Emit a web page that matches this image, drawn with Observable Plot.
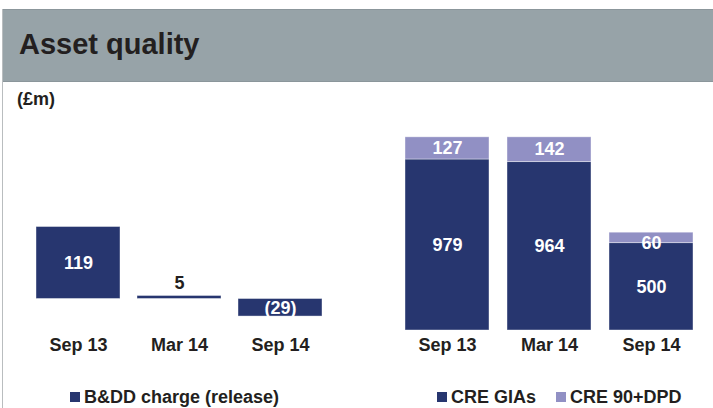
<!DOCTYPE html>
<html><head><meta charset="utf-8">
<script src="https://cdn.jsdelivr.net/npm/d3@7"></script>
<script src="https://cdn.jsdelivr.net/npm/@observablehq/plot@0.6"></script>
<style>
html,body{margin:0;padding:0;background:#fff;}
#wrap{position:relative;width:713px;height:408px;overflow:hidden;font-family:"Liberation Sans",Arial,sans-serif;color:#231f20;}
#header{position:absolute;left:3px;top:9px;width:710px;height:71px;background:#97a3a8;border-top:1px solid #8b969b;border-bottom:1px solid #8b969b;}
#title{position:absolute;left:19px;top:30px;font-size:29px;font-weight:bold;line-height:1;}
#vline{position:absolute;left:2px;top:9px;width:1px;height:399px;background:#b9bdbf;}
#unit{position:absolute;left:17px;top:90px;font-size:18px;font-weight:bold;line-height:1;}
.plot{position:absolute;top:0;}
.legend{position:absolute;top:388px;font-size:18px;font-weight:bold;white-space:nowrap;display:flex;align-items:center;line-height:1;}
.legend .sw{display:inline-block;width:10px;height:10px;margin-right:4px;}
.legend .item{display:flex;align-items:center;}
</style></head>
<body><div id="wrap">
<div id="header"></div>
<div id="vline"></div>
<div id="title">Asset quality</div>
<div id="unit">(£m)</div>
</div>
<script>
const periods = ["Sep 13", "Mar 14", "Sep 14"];
const bddValues = [119, 5, -29];
const bddLabel = "B&DD charge (release)";
const creSeries = ["CRE GIAs", "CRE 90+DPD"];
const creGIAs = [979, 964, 500];
const cre90DPD = [127, 142, 60];
const dark = "#27366f";
const light = "#9190c4";

const wrap = document.getElementById("wrap");
const fmt = v => v < 0 ? `(${Math.abs(v)})` : `${v}`;
const style = {fontFamily: '"Liberation Sans", Arial, sans-serif', fontSize: "18px", fontWeight: "bold", color: "#231f20", background: "transparent", overflow: "visible"};

// Left chart
const bdd = periods.map((p, i) => ({period: p, value: bddValues[i]}));
const left = Plot.plot({
  width: 356, height: 408,
  marginLeft: 17.7, marginRight: 16.5, marginTop: 0, marginBottom: 76,
  style,
  x: {domain: periods, padding: 0.17, axis: null},
  y: {domain: [0, 119], range: [298.5, 226.5], axis: null},
  marks: [
    Plot.barY(bdd, {x: "period", y: "value", fill: dark, inset: 0, stroke: "#ffffff", strokeOpacity: 0.5, strokeWidth: 0.8}),
    Plot.text(bdd.filter(d => Math.abs(d.value) > 10), {x: "period", y: d => d.value / 2, text: d => fmt(d.value), fill: "white", fontSize: 18, fontWeight: "bold"}),
    Plot.text(bdd.filter(d => Math.abs(d.value) <= 10), {x: "period", y: "value", dy: -13, text: d => fmt(d.value), fill: "#231f20", fontSize: 18, fontWeight: "bold"}),
    Plot.axisX({tickSize: 0, tickPadding: 6.2, fontSize: 18, fontWeight: "bold", label: null})
  ]
});
left.classList.add("plot");
left.style.left = "0px";
wrap.appendChild(left);

// Right chart
const cre = [];
periods.forEach((p, i) => {
  cre.push({period: p, series: creSeries[0], value: creGIAs[i]});
  cre.push({period: p, series: creSeries[1], value: cre90DPD[i]});
});
const textOpts = {x: "period", y: "value", z: "series", fill: "white", fontSize: 18, fontWeight: "bold"};
const right = Plot.plot({
  width: 357, height: 408,
  marginLeft: 30, marginRight: 0, marginTop: 0, marginBottom: 76,
  style,
  x: {domain: periods, padding: 0.175, axis: null},
  y: {domain: [0, 979], range: [330, 159], axis: null},
  color: {domain: creSeries, range: [dark, light]},
  marks: [
    Plot.barY(cre, Plot.stackY({x: "period", y: "value", z: "series", fill: "series", inset: 0, stroke: "#ffffff", strokeOpacity: 0.5, strokeWidth: 0.8})),
    Plot.text(cre, Plot.stackY({...textOpts, text: d => d.value >= 100 ? fmt(d.value) : null})),
    Plot.text(cre, Plot.stackY({...textOpts, text: d => d.value < 100 ? fmt(d.value) : null, dy: 5})),
    Plot.axisX({tickSize: 0, tickPadding: 6.2, fontSize: 18, fontWeight: "bold", label: null})
  ]
});
right.classList.add("plot");
right.style.left = "356px";
wrap.appendChild(right);

// Legends
function legend(items, left) {
  const div = document.createElement("div");
  div.className = "legend";
  div.style.left = left + "px";
  items.forEach(([name, color], i) => {
    const it = document.createElement("span");
    it.className = "item";
    if (i > 0) it.style.marginLeft = "20px";
    const sw = document.createElement("span");
    sw.className = "sw";
    sw.style.background = color;
    const t = document.createElement("span");
    t.textContent = name;
    it.appendChild(sw); it.appendChild(t);
    div.appendChild(it);
  });
  wrap.appendChild(div);
}
legend([[bddLabel, dark]], 70);
legend([[creSeries[0], dark], [creSeries[1], light]], 437);
</script>
</body></html>
